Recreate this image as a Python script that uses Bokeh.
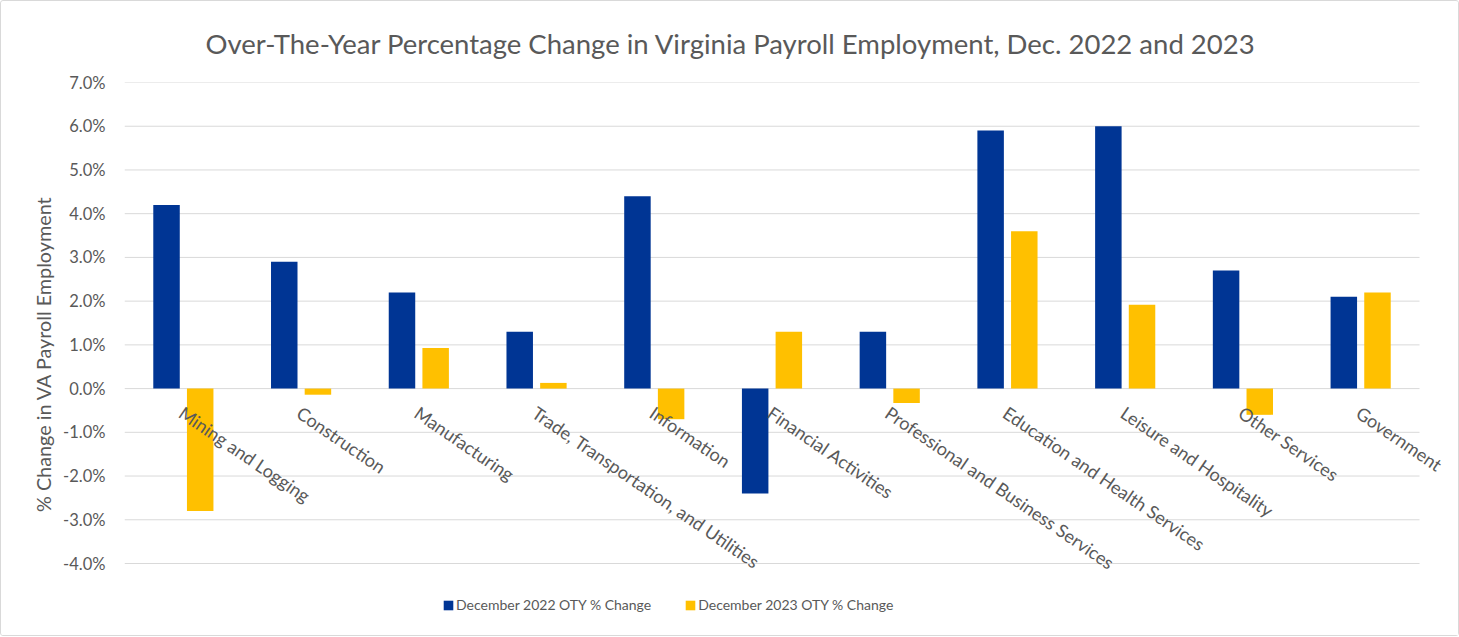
import numpy as np
from bokeh.plotting import figure
from bokeh.models import (Range1d, ColumnDataSource, Legend, LegendItem,
                          PrintfTickFormatter, FixedTicker)
from bokeh.core.properties import value
from bokeh.embed import file_html
from bokeh.resources import INLINE

categories = ["Mining and Logging", "Construction", "Manufacturing",
              "Trade, Transportation, and Utilities", "Information",
              "Financial Activities", "Professional and Business Services",
              "Education and Health Services", "Leisure and Hospitality",
              "Other Services", "Government"]
dec_2022 = [4.2, 2.9, 2.2, 1.3, 4.4, -2.4, 1.3, 5.9, 6.0, 2.7, 2.1]
dec_2023 = [-2.8, -0.14, 0.93, 0.13, -0.7, 1.3, -0.33, 3.6, 1.92, -0.6, 2.2]
y_ticks = [-4, -3, -2, -1, 0, 1, 2, 3, 4, 5, 6, 7]

TITLE = "Over-The-Year Percentage Change in Virginia Payroll Employment, Dec. 2022 and 2023"
FONT = "Lato"
GREY = "#595959"
BLUE = "#003594"
GOLD = "#FFC000"

n = len(categories)
centers = np.arange(n) + 0.5
OFF = 0.143
BW = 0.225

# layout (pixels)
CAT_PX = 117.8          # width of one category slot
GRID_PX = 481           # height of the gridded area
EXTRA_R = 30            # room right of the grid for the last rotated label
EXTRA_B = 62            # room under the grid for labels and legend
px_per_unit = GRID_PX / (y_ticks[-1] - y_ticks[0])

src = ColumnDataSource(dict(cat=categories, xc=centers, xa=centers - OFF, xb=centers + OFF,
                            a=dec_2022, b=dec_2023, zero=[0] * n))

p = figure(frame_width=int(CAT_PX * n + EXTRA_R), frame_height=GRID_PX + EXTRA_B,
           x_range=Range1d(0, n + EXTRA_R / CAT_PX),
           y_range=Range1d(y_ticks[0] - EXTRA_B / px_per_unit, y_ticks[-1]),
           output_backend="svg", toolbar_location=None,
           min_border_left=123, min_border_right=9, min_border_top=81,
           min_border_bottom=10,
           styles={"border": "1px solid #d9d9d9", "border-radius": "3px"})

p.title.text = TITLE
p.title.align = "left"
p.title.offset = 81
p.title.text_font = FONT
p.title.text_font_size = "27.5px"
p.title.text_font_style = "normal"
p.title.text_color = GREY
p.title.standoff = 45

# horizontal gridlines limited to the category span
p.segment(x0=0, x1=n, y0=y_ticks, y1=y_ticks, line_color="#d9d9d9", line_width=1)

r1 = p.vbar(x="xa", top="a", width=BW, source=src, color=BLUE, line_color=None)
r2 = p.vbar(x="xb", top="b", width=BW, source=src, color=GOLD, line_color=None)

p.text(x="xc", y="zero", text="cat", source=src, angle=-0.60,
       text_align="left", text_baseline="top", x_offset=4, y_offset=13,
       text_font=value(FONT), text_font_size="18px", text_color=GREY)

p.xaxis.visible = False
p.xgrid.visible = False
p.ygrid.visible = False
p.outline_line_color = None

ya = p.yaxis[0]
ya.ticker = FixedTicker(ticks=y_ticks)
ya.formatter = PrintfTickFormatter(format="%.1f%%")
ya.axis_line_color = None
ya.major_tick_line_color = None
ya.minor_tick_line_color = None
ya.major_label_text_font = FONT
ya.major_label_text_font_size = "16.5px"
ya.major_label_text_color = GREY
ya.major_label_standoff = 13
ya.axis_label = "% Change in VA Payroll Employment"
ya.axis_label_text_font = FONT
ya.axis_label_text_font_size = "19.8px"
ya.axis_label_text_font_style = "normal"
ya.axis_label_text_color = GREY
ya.axis_label_standoff = 5

legend = Legend(items=[LegendItem(label="December 2022 OTY % Change", renderers=[r1]),
                       LegendItem(label="December 2023 OTY % Change", renderers=[r2])],
                orientation="horizontal", location=(318, 12),
                glyph_width=12, glyph_height=12, label_standoff=2, spacing=33,
                label_text_font=FONT, label_text_font_size="14px",
                label_text_color=GREY, border_line_color=None,
                background_fill_alpha=0, padding=0, margin=0)
p.add_layout(legend, "center")

open("out.html", "w").write(file_html(p, INLINE))
